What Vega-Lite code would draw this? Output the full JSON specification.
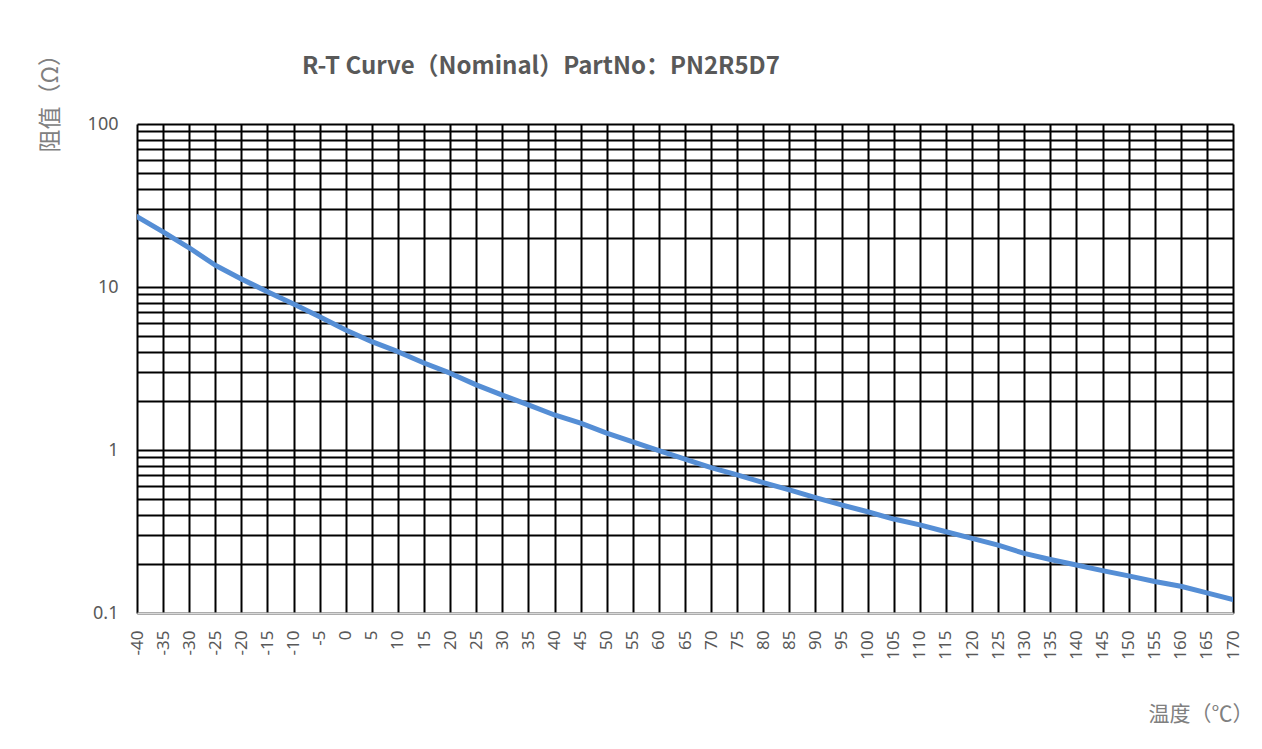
{
  "$schema": "https://vega.github.io/schema/vega-lite/v6.json",
  "width": 1096,
  "height": 489,
  "autosize": {"type": "none"},
  "padding": {"left": 137, "top": 124, "right": 29, "bottom": 136},
  "background": "white",
  "config": {
    "view": {"stroke": null},
    "font": "Noto Sans"
  },
  "title": {
    "text": "R-T Curve（Nominal）PartNo：PN2R5D7",
    "font": "Noto Sans CJK SC",
    "fontSize": 24,
    "fontWeight": "bold",
    "color": "#595959",
    "anchor": "middle",
    "dx": -144,
    "dy": 40
  },
  "data": {
    "values": [
      {"t": -40, "r": 27.0},
      {"t": -35, "r": 21.8},
      {"t": -30, "r": 17.4},
      {"t": -25, "r": 13.6},
      {"t": -20, "r": 11.2},
      {"t": -15, "r": 9.35},
      {"t": -10, "r": 7.87},
      {"t": -5, "r": 6.58},
      {"t": 0, "r": 5.45},
      {"t": 5, "r": 4.62},
      {"t": 10, "r": 4.01},
      {"t": 15, "r": 3.42},
      {"t": 20, "r": 2.96},
      {"t": 25, "r": 2.51},
      {"t": 30, "r": 2.17},
      {"t": 35, "r": 1.89},
      {"t": 40, "r": 1.64},
      {"t": 45, "r": 1.46},
      {"t": 50, "r": 1.27},
      {"t": 55, "r": 1.12},
      {"t": 60, "r": 0.99},
      {"t": 65, "r": 0.88},
      {"t": 70, "r": 0.78},
      {"t": 75, "r": 0.703},
      {"t": 80, "r": 0.63},
      {"t": 85, "r": 0.569},
      {"t": 90, "r": 0.511},
      {"t": 95, "r": 0.46},
      {"t": 100, "r": 0.418},
      {"t": 105, "r": 0.377},
      {"t": 110, "r": 0.347},
      {"t": 115, "r": 0.315},
      {"t": 120, "r": 0.287},
      {"t": 125, "r": 0.261},
      {"t": 130, "r": 0.232},
      {"t": 135, "r": 0.213},
      {"t": 140, "r": 0.197},
      {"t": 145, "r": 0.182},
      {"t": 150, "r": 0.169},
      {"t": 155, "r": 0.156},
      {"t": 160, "r": 0.146},
      {"t": 165, "r": 0.133},
      {"t": 170, "r": 0.121}
    ]
  },
  "mark": {"type": "line", "color": "#558ED5", "strokeWidth": 5, "strokeCap": "round", "strokeJoin": "round", "clip": true},
  "encoding": {
    "x": {
      "field": "t",
      "type": "quantitative",
      "scale": {"domain": [-40, 170], "nice": false, "zero": false},
      "axis": {
        "values": [-40,-35,-30,-25,-20,-15,-10,-5,0,5,10,15,20,25,30,35,40,45,50,55,60,65,70,75,80,85,90,95,100,105,110,115,120,125,130,135,140,145,150,155,160,165,170],
        "labelExpr": "'' + datum.value",
        "grid": true,
        "gridColor": "black",
        "gridWidth": 2,
        "gridOpacity": 1,
        "ticks": false,
        "tickSize": 0,
        "domain": true,
        "domainColor": "#d9d9d9",
        "domainWidth": 2,
        "labelAngle": 270,
        "labelAlign": "right",
        "labelBaseline": "middle",
        "labelPadding": 17,
        "labelFontSize": 17,
        "labelColor": "#595959",
        "labelOverlap": false,
        "labelFlush": false,
        "title": "温度（℃）",
        "titleFont": "Noto Sans CJK SC",
        "titleFontSize": 21,
        "titleFontWeight": "normal",
        "titleColor": "#808080",
        "titleAngle": 0,
        "titleAlign": "right",
        "titleBaseline": "middle",
        "titleX": 1116,
        "titleY": 101
      }
    },
    "y": {
      "field": "r",
      "type": "quantitative",
      "scale": {"type": "log", "domain": [0.1, 100], "nice": false},
      "axis": {
        "values": [0.1,0.2,0.3,0.4,0.5,0.6,0.7,0.8,0.9,1,2,3,4,5,6,7,8,9,10,20,30,40,50,60,70,80,90,100],
        "labelExpr": "datum.value == 0.1 ? '0.1' : datum.value == 1 ? '1' : datum.value == 10 ? '10' : datum.value == 100 ? '100' : ''",
        "grid": true,
        "gridColor": "black",
        "gridWidth": 2,
        "gridOpacity": 1,
        "ticks": false,
        "tickSize": 0,
        "domain": false,
        "labelPadding": 19,
        "labelFontSize": 18,
        "labelColor": "#595959",
        "labelOverlap": false,
        "labelFlush": false,
        "title": "阻值（Ω）",
        "titleFont": "Noto Sans CJK SC",
        "titleFontSize": 23,
        "titleFontWeight": "normal",
        "titleColor": "#808080",
        "titleAngle": 270,
        "titleAlign": "left",
        "titleBaseline": "middle",
        "titleX": -87,
        "titleY": 28
      }
    }
  }
}
